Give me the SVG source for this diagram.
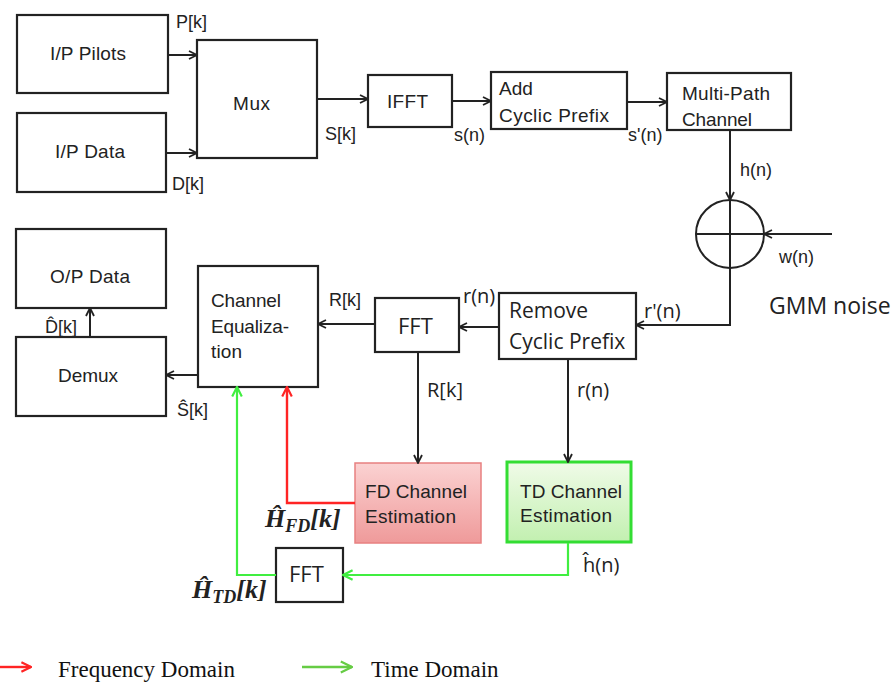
<svg xmlns="http://www.w3.org/2000/svg" width="895" height="683" viewBox="0 0 895 683">
  <defs>
    <style>
      .box { fill: #fff; stroke: #222; stroke-width: 2.2; }
      .lbl { font-family: "Liberation Sans", Arial, sans-serif; font-size: 19px; fill: #222; }
      .sig { font-family: "Liberation Sans", Arial, sans-serif; font-size: 18px; fill: #222; }
      .cal { font-family: "Open Sans", "Liberation Sans", sans-serif; font-size: 20px; fill: #222; }
      .cal-l { font-size: 21px; }
      .cal-xl { font-size: 22px; }
      .noise { font-size: 23px; }
      .math { font-family: "Liberation Serif", "Times New Roman", serif; font-weight: bold; font-style: italic; fill: #222; }
      .leg { font-family: "Liberation Serif", "Times New Roman", serif; font-size: 23px; fill: #111; }
      .wire { fill: none; stroke: #222; stroke-width: 2; }
      .wire-fd { fill: none; stroke: #ff2424; stroke-width: 2.4; }
      .wire-td { fill: none; stroke: #40ee40; stroke-width: 2.2; }
    </style>
    <marker id="arr" viewBox="0 0 10 10" refX="9" refY="5" markerWidth="10" markerHeight="10" markerUnits="userSpaceOnUse" orient="auto">
      <path d="M1,1 L9,5 L1,9" fill="none" stroke="#222" stroke-width="1.8"/>
    </marker>
    <marker id="arr-fd" viewBox="0 0 10 10" refX="9" refY="5" markerWidth="12" markerHeight="12" markerUnits="userSpaceOnUse" orient="auto">
      <path d="M1,1 L9,5 L1,9" fill="none" stroke="#ff2424" stroke-width="1.8"/>
    </marker>
    <marker id="arr-td" viewBox="0 0 10 10" refX="9" refY="5" markerWidth="12" markerHeight="12" markerUnits="userSpaceOnUse" orient="auto">
      <path d="M1,1 L9,5 L1,9" fill="none" stroke="#40ee40" stroke-width="1.8"/>
    </marker>
    <marker id="arr-leg" viewBox="0 0 10 10" refX="9" refY="5" markerWidth="14" markerHeight="14" markerUnits="userSpaceOnUse" orient="auto">
      <path d="M1,1 L9,5 L1,9" fill="none" stroke="#66cc44" stroke-width="1.6"/>
    </marker>
    <linearGradient id="fdFill" x1="0" y1="0" x2="0" y2="1">
      <stop offset="0" stop-color="#fbd2d2"/>
      <stop offset="1" stop-color="#ef9a9a"/>
    </linearGradient>
    <linearGradient id="tdFill" x1="0" y1="0" x2="0" y2="1">
      <stop offset="0" stop-color="#f0fbe8"/>
      <stop offset="1" stop-color="#c2f0b0"/>
    </linearGradient>
  </defs>

  <rect width="895" height="683" fill="#fff"/>

  <!-- Transmitter -->
  <g id="ip-pilots">
    <rect class="box" x="17" y="15" width="151" height="78"/>
    <text class="lbl" x="88" y="60" text-anchor="middle" textLength="76">I/P Pilots</text>
  </g>
  <g id="ip-data">
    <rect class="box" x="17" y="113" width="149" height="79"/>
    <text class="lbl" x="90" y="158" text-anchor="middle" textLength="70">I/P Data</text>
  </g>
  <g id="mux">
    <rect class="box" x="197" y="40" width="120" height="118"/>
    <text class="lbl" x="233" y="110" textLength="37">Mux</text>
  </g>
  <g id="ifft">
    <rect class="box" x="368" y="75" width="84" height="52"/>
    <text class="lbl" x="387" y="108" textLength="41">IFFT</text>
  </g>
  <g id="add-cp">
    <rect class="box" x="491" y="72" width="136" height="57"/>
    <text class="lbl" x="499" y="95">Add</text>
    <text class="lbl" x="499" y="122" textLength="110">Cyclic Prefix</text>
  </g>
  <g id="multipath">
    <rect class="box" x="667" y="73" width="124" height="57"/>
    <text class="lbl" x="682" y="100" textLength="88">Multi-Path</text>
    <text class="lbl" x="682" y="126" textLength="70">Channel</text>
  </g>
  <g id="adder">
    <circle cx="730" cy="234" r="34" fill="#fff" stroke="#222" stroke-width="2"/>
    <path class="wire" d="M696,234 H764 M730,200 V268"/>
  </g>

  <!-- Receiver -->
  <g id="remove-cp">
    <rect class="box" x="499" y="293" width="137" height="66"/>
    <text class="cal cal-l" x="509" y="318">Remove</text>
    <text class="cal cal-l" x="509" y="349">Cyclic Prefix</text>
  </g>
  <g id="fft">
    <rect class="box" x="375" y="298" width="84" height="54"/>
    <text class="cal cal-xl" x="398" y="334">FFT</text>
  </g>
  <g id="equalizer">
    <rect class="box" x="198" y="266" width="120" height="121"/>
    <text class="lbl" x="211" y="307" textLength="70">Channel</text>
    <text class="lbl" x="211" y="333" textLength="78">Equaliza-</text>
    <text class="lbl" x="211" y="358" textLength="31">tion</text>
  </g>
  <g id="op-data">
    <rect class="box" x="16" y="229" width="150" height="79"/>
    <text class="lbl" x="90" y="283" text-anchor="middle" textLength="80">O/P Data</text>
  </g>
  <g id="demux">
    <rect class="box" x="16" y="337" width="150" height="79"/>
    <text class="lbl" x="88" y="382" text-anchor="middle" textLength="60">Demux</text>
  </g>
  <g id="fd-estimation">
    <rect x="355" y="463" width="126" height="80" fill="url(#fdFill)" stroke="#e88080" stroke-width="1.5"/>
    <text class="lbl" x="365" y="498" textLength="102">FD Channel</text>
    <text class="lbl" x="365" y="523" textLength="91">Estimation</text>
  </g>
  <g id="td-estimation">
    <rect x="507" y="462" width="124" height="80" fill="url(#tdFill)" stroke="#33dd33" stroke-width="3"/>
    <text class="lbl" x="520" y="498" textLength="102">TD Channel</text>
    <text class="lbl" x="520" y="522" textLength="92">Estimation</text>
  </g>
  <g id="fft-td">
    <rect class="box" x="276" y="548" width="67" height="54"/>
    <text class="cal cal-xl" x="289" y="582">FFT</text>
  </g>

  <!-- Connectors -->
  <g id="connectors">
    <path class="wire" marker-end="url(#arr)" d="M168,55 H197"/>
    <path class="wire" marker-end="url(#arr)" d="M166,153 H197"/>
    <path class="wire" marker-end="url(#arr)" d="M317,99 H368"/>
    <path class="wire" marker-end="url(#arr)" d="M452,101 H491"/>
    <path class="wire" marker-end="url(#arr)" d="M627,102 H667"/>
    <path class="wire" marker-end="url(#arr)" d="M730,130 V200"/>
    <path class="wire" marker-end="url(#arr)" d="M832,234 H764"/>
    <path class="wire" marker-end="url(#arr)" d="M730,268 V325 H636"/>
    <path class="wire" marker-end="url(#arr)" d="M499,327 H459"/>
    <path class="wire" marker-end="url(#arr)" d="M375,324 H318"/>
    <path class="wire" marker-end="url(#arr)" d="M418,352 V463"/>
    <path class="wire" marker-end="url(#arr)" d="M568,359 V462"/>
    <path class="wire" marker-end="url(#arr)" d="M198,375 H166"/>
    <path class="wire" marker-end="url(#arr)" d="M90,337 V308"/>
    <path class="wire-fd" marker-end="url(#arr-fd)" d="M355,503 H287 V387"/>
    <path class="wire-td" marker-end="url(#arr-td)" d="M568,543 V575 H343"/>
    <path class="wire-td" marker-end="url(#arr-td)" d="M276,575 H237 V387"/>
  </g>

  <!-- Signal labels -->
  <g id="signal-labels">
    <text class="sig" x="176" y="28">P[k]</text>
    <text class="sig" x="172" y="190">D[k]</text>
    <text class="sig" x="325" y="140">S[k]</text>
    <text class="sig" x="454" y="141">s(n)</text>
    <text class="sig" x="628" y="141">s'(n)</text>
    <text class="sig" x="740" y="176">h(n)</text>
    <text class="sig" x="779" y="263">w(n)</text>
    <text class="cal noise" x="769" y="314">GMM noise</text>
    <text class="cal" x="644" y="318">r'(n)</text>
    <text class="cal" x="463" y="303">r(n)</text>
    <text class="sig" x="329" y="306">R[k]</text>
    <text class="cal" x="427" y="397">R[k]</text>
    <text class="cal" x="577" y="397">r(n)</text>
    <text class="sig" x="45" y="333">D̂[k]</text>
    <text class="sig" x="177" y="416">Ŝ[k]</text>
    <text class="cal" x="583" y="572">ĥ(n)</text>
    <text class="math" x="265" y="527" font-size="26">Ĥ<tspan font-size="18" dy="5">FD</tspan><tspan dy="-5">[</tspan><tspan>k</tspan><tspan>]</tspan></text>
    <text class="math" x="192" y="598" font-size="26">Ĥ<tspan font-size="18" dy="5">TD</tspan><tspan dy="-5">[</tspan><tspan>k</tspan><tspan>]</tspan></text>
  </g>

  <!-- Legend -->
  <g id="legend">
    <path class="wire-fd" marker-end="url(#arr-fd)" d="M0,667 H31"/>
    <text class="leg" x="58" y="677">Frequency Domain</text>
    <path fill="none" stroke="#66cc44" stroke-width="2.6" marker-end="url(#arr-leg)" d="M302,667 H352"/>
    <text class="leg" x="371" y="677">Time Domain</text>
  </g>
</svg>
